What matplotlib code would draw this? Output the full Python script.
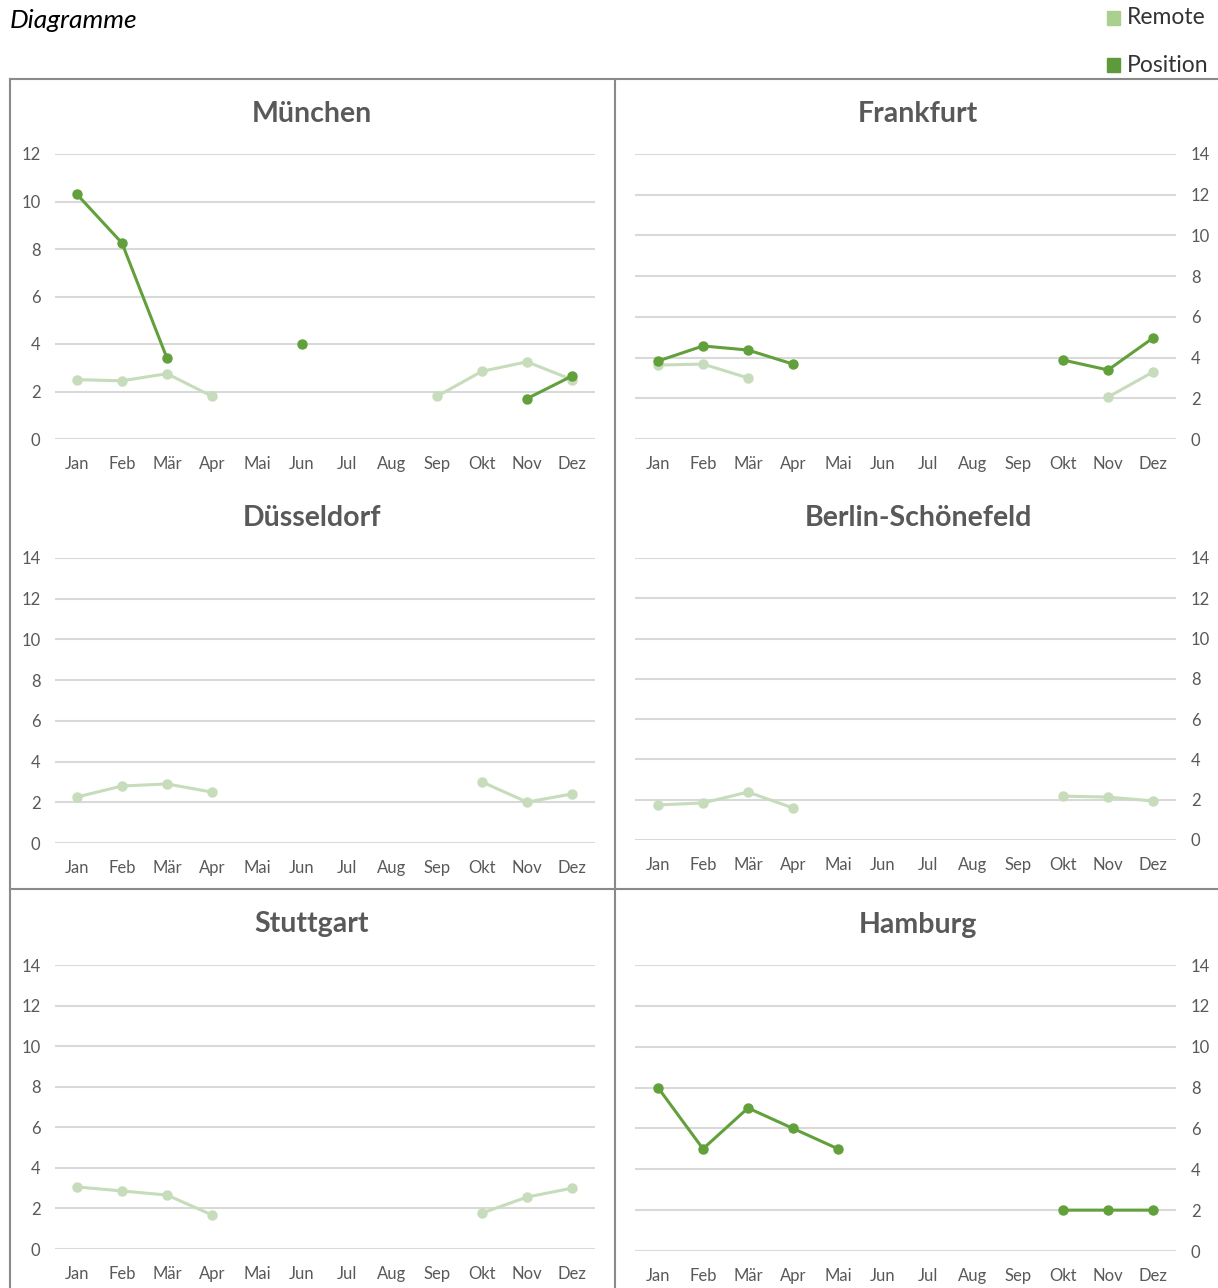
import numpy as np
import matplotlib
matplotlib.use("Agg")
import matplotlib.pyplot as plt
from matplotlib.lines import Line2D

plt.rcParams['font.family'] = ['Lato', 'DejaVu Sans']

W, H = 1218, 1288
nan = np.nan

months = ["Jan", "Feb", "Mär", "Apr", "Mai", "Jun", "Jul", "Aug", "Sep", "Okt", "Nov", "Dez"]

muenchen_position = [10.3, 8.25, 3.4, nan, nan, 4.0, nan, nan, nan, nan, 1.7, 2.65]
muenchen_remote = [2.5, 2.45, 2.75, 1.8, nan, nan, nan, nan, 1.8, 2.85, 3.25, 2.5]

frankfurt_position = [3.83, 4.57, 4.37, 3.68, nan, nan, nan, nan, nan, 3.88, 3.39, 4.96]
frankfurt_remote = [3.63, 3.68, 3.0, nan, nan, nan, nan, nan, nan, nan, 2.06, 3.29]

duesseldorf_remote = [2.26, 2.8, 2.9, 2.5, nan, nan, nan, nan, nan, 3.0, 2.01, 2.41]

berlin_remote = [1.74, 1.84, 2.38, 1.59, nan, nan, nan, nan, nan, 2.18, 2.13, 1.94]

stuttgart_remote = [3.06, 2.86, 2.66, 1.68, nan, nan, nan, nan, nan, 1.77, 2.56, 3.0]

hamburg_position = [8, 5, 7, 6, 5, nan, nan, nan, nan, 2, 2, 2]

POS_COLOR = "#62a03b"
REM_COLOR = "#c6dcba"
TEXT_COLOR = "#595959"
GRID_COLOR = "#d9d9d9"
BORDER_COLOR = "#8a8a8a"

# name, position, remote, ymax, side, (left px, bottom px, top px), title center px
panels = [
    ("München", muenchen_position, muenchen_remote, 12, "left", (54.5, 439, 154), (312, 114)),
    ("Frankfurt", frankfurt_position, frankfurt_remote, 14, "right", (635.5, 439, 154), (918, 114)),
    ("Düsseldorf", None, duesseldorf_remote, 14, "left", (54.5, 843, 558), (312, 518)),
    ("Berlin-Schönefeld", None, berlin_remote, 14, "right", (635.5, 840, 558), (918, 518)),
    ("Stuttgart", None, stuttgart_remote, 14, "left", (54.5, 1249, 965), (312, 924)),
    ("Hamburg", hamburg_position, None, 14, "right", (635.5, 1251, 965), (918, 925)),
]

fig = plt.figure(figsize=(W / 100, H / 100), dpi=100)

x = np.arange(len(months))
for name, pos, rem, ymax, side, (lx, by, ty), (tx, tyy) in panels:
    ax = fig.add_axes([lx / W, 1 - by / H, 540 / W, (by - ty) / H])
    if rem is not None:
        ax.plot(x, rem, color=REM_COLOR, lw=2.2, marker="o", ms=6.5, zorder=3)
    if pos is not None:
        ax.plot(x, pos, color=POS_COLOR, lw=2.2, marker="o", ms=6.5, zorder=4)
    ax.set_xlim(-0.5, 11.5)
    ax.set_ylim(0, ymax)
    ax.set_yticks(np.arange(0, ymax + 1, 2))
    ax.set_xticks(x)
    ax.set_xticklabels(months)
    ax.yaxis.grid(True, color=GRID_COLOR, lw=1.5)
    ax.set_axisbelow(True)
    for s in ax.spines.values():
        s.set_visible(False)
    ax.tick_params(axis="both", length=0, labelsize=12, labelcolor=TEXT_COLOR)
    ax.tick_params(axis="x", pad=12)
    if side == "right":
        ax.yaxis.tick_right()
        ax.tick_params(axis="y", pad=11)
    else:
        ax.tick_params(axis="y", pad=10)
    fig.text(tx / W, 1 - tyy / H, name, ha="center", va="center",
             fontsize=20.5, fontweight="bold", color=TEXT_COLOR)

# panel borders
def hline(y, x0, x1):
    fig.add_artist(Line2D([x0 / W, x1 / W], [1 - y / H, 1 - y / H], color=BORDER_COLOR, lw=1.5))

def vline(xp, y0, y1):
    fig.add_artist(Line2D([xp / W, xp / W], [1 - y0 / H, 1 - y1 / H], color=BORDER_COLOR, lw=1.5))

hline(79, 10, W)
hline(889, 10, W)
vline(10, 79, H)
vline(615, 79, H)

# header
fig.text(10 / W, 1 - 21 / H, "Diagramme", ha="left", va="center",
         fontsize=19, fontstyle="italic", color="black")

legend_items = [("Remote", "#a9d08e", 18), ("Position", "#5e9a3a", 65)]
for label, col, yp in legend_items:
    fig.patches.append(plt.Rectangle((1107 / W, 1 - (yp + 7) / H), 13 / W, 14 / H,
                                     transform=fig.transFigure, color=col))
    fig.text(1127 / W, 1 - yp / H, label, ha="left", va="center",
             fontsize=16.5, color="#333333")

fig.savefig("out.png", dpi=100)
